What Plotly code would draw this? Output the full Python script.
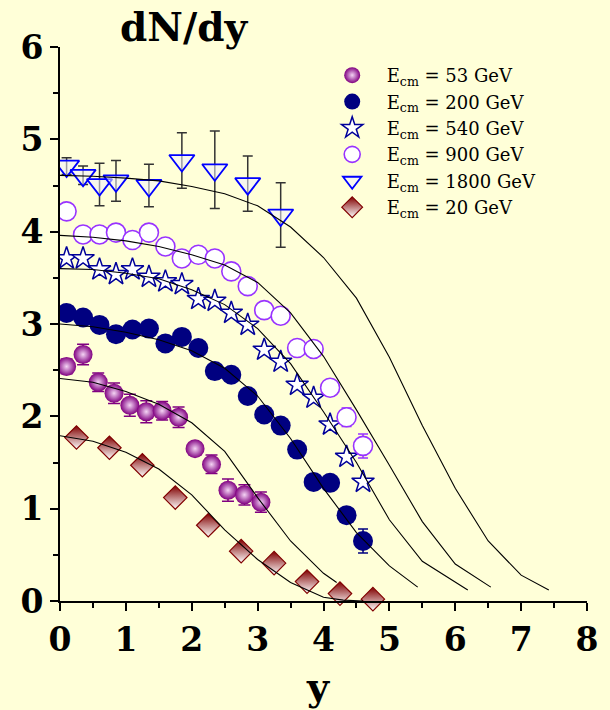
import plotly.graph_objects as go

# ---- measured rapidity distributions ----
x53 = [0.1, 0.35, 0.58, 0.82, 1.06, 1.31, 1.55, 1.8, 2.05, 2.3, 2.55, 2.8, 3.05]
y53 = [2.54, 2.67, 2.37, 2.25, 2.12, 2.05, 2.06, 1.99, 1.65, 1.48, 1.20, 1.15, 1.07]
e53 = [0.08, 0.11, 0.10, 0.11, 0.12, 0.12, 0.10, 0.11, 0.05, 0.10, 0.12, 0.11, 0.11]

x200 = [0.1, 0.35, 0.6, 0.85, 1.1, 1.35, 1.6, 1.85, 2.1, 2.35, 2.6, 2.85, 3.1,
        3.35, 3.6, 3.85, 4.1, 4.35, 4.6]
y200 = [3.12, 3.07, 2.99, 2.89, 2.94, 2.95, 2.79, 2.86, 2.74, 2.49, 2.45, 2.22, 2.02,
        1.90, 1.64, 1.29, 1.28, 0.93, 0.65]
e200 = [0.03] * 18 + [0.13]

x540 = [0.1, 0.35, 0.6, 0.85, 1.1, 1.35, 1.6, 1.85, 2.1, 2.35, 2.6, 2.85, 3.1,
        3.35, 3.6, 3.85, 4.1, 4.35, 4.6]
y540 = [3.71, 3.71, 3.59, 3.54, 3.59, 3.51, 3.46, 3.43, 3.27, 3.25, 3.12, 2.99, 2.72,
        2.59, 2.34, 2.20, 1.91, 1.56, 1.29]

x900 = [0.1, 0.35, 0.6, 0.85, 1.1, 1.35, 1.6, 1.85, 2.1, 2.35, 2.6, 2.85, 3.1,
        3.35, 3.6, 3.85, 4.1, 4.35, 4.6]
y900 = [4.22, 3.97, 3.97, 3.99, 3.91, 3.99, 3.84, 3.71, 3.75, 3.71, 3.57, 3.41, 3.15,
        3.09, 2.74, 2.73, 2.31, 1.99, 1.68]
e900 = [0.0] * 15 + [0.05, 0.08, 0.10, 0.13]

x1800 = [0.1, 0.35, 0.6, 0.85, 1.35, 1.85, 2.35, 2.85, 3.35]
y1800 = [4.71, 4.61, 4.51, 4.55, 4.50, 4.77, 4.67, 4.52, 4.18]
e1800 = [0.09, 0.10, 0.23, 0.22, 0.23, 0.30, 0.42, 0.30, 0.35]

x20 = [0.25, 0.75, 1.25, 1.75, 2.25, 2.75, 3.25, 3.75, 4.25, 4.75]
y20 = [1.77, 1.66, 1.47, 1.12, 0.82, 0.54, 0.41, 0.21, 0.08, 0.02]

# ---- model curves ----
cx20 = [0.0, 0.5, 1.0, 1.5, 2.0, 2.5, 3.0, 3.5, 4.0, 4.3, 4.6]
cy20 = [1.79, 1.73, 1.61, 1.43, 1.15, 0.77, 0.45, 0.20, 0.04, 0.01, 0.0]

cx53 = [0.0, 0.5, 1.0, 1.5, 2.0, 2.5, 3.0, 3.5, 4.0, 4.2]
cy53 = [2.41, 2.37, 2.27, 2.13, 1.93, 1.62, 1.12, 0.65, 0.30, 0.20]

cx200 = [0.0, 0.5, 1.0, 1.5, 2.0, 2.5, 3.0, 3.5, 4.0, 4.5, 5.0, 5.43]
cy200 = [3.00, 2.97, 2.91, 2.83, 2.71, 2.52, 2.22, 1.76, 1.22, 0.74, 0.38, 0.15]

cx540 = [0.0, 0.5, 1.0, 1.5, 2.0, 2.5, 3.0, 3.5, 4.0, 4.5, 5.0, 5.5, 6.19]
cy540 = [3.60, 3.59, 3.55, 3.49, 3.37, 3.21, 2.95, 2.57, 2.05, 1.50, 0.88, 0.43, 0.12]

cx900 = [0.0, 0.5, 1.0, 1.5, 2.0, 2.5, 3.0, 3.5, 4.0, 4.5, 5.0, 5.5, 6.0, 6.54]
cy900 = [3.96, 3.94, 3.90, 3.84, 3.75, 3.64, 3.45, 3.12, 2.65, 2.07, 1.47, 0.86, 0.40, 0.15]

cx1800 = [0.0, 0.5, 1.0, 1.5, 2.0, 2.5, 3.0, 3.5, 4.0, 4.5, 5.0, 5.5, 6.0, 6.5, 7.0, 7.42]
cy1800 = [4.61, 4.60, 4.58, 4.55, 4.49, 4.41, 4.28, 4.05, 3.72, 3.28, 2.64, 1.90, 1.22,
          0.65, 0.28, 0.12]

x_ticks = [0, 1, 2, 3, 4, 5, 6, 7, 8]
y_ticks = [0, 1, 2, 3, 4, 5, 6]

BG = "#FFFFD8"
SERIF = "DejaVu Serif"

fig = go.Figure()

def err(vals, color, cap=5):
    return dict(type="data", array=vals, visible=True, color=color,
                thickness=1.5, width=cap)

fig.add_trace(go.Scatter(
    x=x53, y=y53, mode="markers", name="E<sub>cm</sub> = 53 GeV",
    error_y=err(e53, "#800080", 6),
    marker=dict(symbol="circle", size=19, color="#800080",
                gradient=dict(type="radial", color="#F4D4F4"),
                line=dict(width=0))))

fig.add_trace(go.Scatter(
    x=x200, y=y200, mode="markers", name="E<sub>cm</sub> = 200 GeV",
    error_y=err(e200, "#000080"),
    marker=dict(symbol="circle", size=20, color="#000080",
                line=dict(width=0))))

fig.add_trace(go.Scatter(
    x=x540, y=y540, mode="markers", name="E<sub>cm</sub> = 540 GeV",
    marker=dict(symbol="star", size=17, color="white",
                line=dict(width=1.5, color="#000099"))))

fig.add_trace(go.Scatter(
    x=x900, y=y900, mode="markers", name="E<sub>cm</sub> = 900 GeV",
    error_y=err(e900, "#9933FF"),
    marker=dict(symbol="circle", size=19, color="white",
                line=dict(width=1.6, color="#9933FF"))))

fig.add_trace(go.Scatter(
    x=x1800, y=y1800, mode="markers", name="E<sub>cm</sub> = 1800 GeV",
    error_y=err(e1800, "#333333"),
    marker=dict(symbol="triangle-down", size=22, color="rgba(240,240,255,0.55)",
                line=dict(width=1.8, color="#0000FF"))))

fig.add_trace(go.Scatter(
    x=x20, y=y20, mode="markers", name="E<sub>cm</sub> = 20 GeV",
    cliponaxis=False,
    marker=dict(symbol="diamond", size=18, color="#800000",
                gradient=dict(type="vertical", color="white"),
                line=dict(width=1.2, color="#800000"))))

for cx, cy in [(cx20, cy20), (cx53, cy53), (cx200, cy200),
               (cx540, cy540), (cx900, cy900), (cx1800, cy1800)]:
    fig.add_trace(go.Scatter(x=cx, y=cy, mode="lines", showlegend=False,
                             line=dict(color="black", width=1.1),
                             hoverinfo="skip"))

axis_common = dict(
    showline=True, linecolor="black", linewidth=2,
    ticks="outside", ticklen=8, tickwidth=2, tickcolor="black",
    showgrid=False, zeroline=False,
    tickfont=dict(family=SERIF, size=33, color="black", weight="bold"),
    minor=dict(ticks="outside", ticklen=5, tickwidth=1.5, tickcolor="black",
               dtick=0.5, showgrid=False),
)

fig.update_xaxes(range=[0, 8], tickvals=x_ticks, ticktext=[str(v) for v in x_ticks],
                 **axis_common)
fig.update_yaxes(range=[0, 6], tickvals=y_ticks, ticktext=[str(v) for v in y_ticks],
                 **axis_common)

fig.add_annotation(text="dN/dy", xref="paper", yref="paper", x=0.236, y=1.036,
                   xanchor="center", yanchor="middle", showarrow=False,
                   font=dict(family=SERIF, size=39, color="black", weight="bold"))
fig.add_annotation(text="y", xref="paper", yref="paper", x=0.49, y=-0.155,
                   xanchor="center", yanchor="middle", showarrow=False,
                   font=dict(family=SERIF, size=38, color="black", weight="bold"))

fig.update_layout(
    width=610, height=710,
    margin=dict(l=60, r=15, t=47, b=109),
    paper_bgcolor=BG, plot_bgcolor=BG,
    legend=dict(x=0.489, y=0.982, xanchor="left", yanchor="top",
                bgcolor="rgba(0,0,0,0)", borderwidth=0, itemwidth=59,
                font=dict(family=SERIF, size=18, color="black"),
                tracegroupgap=0),
)

fig.write_html("out.html")
